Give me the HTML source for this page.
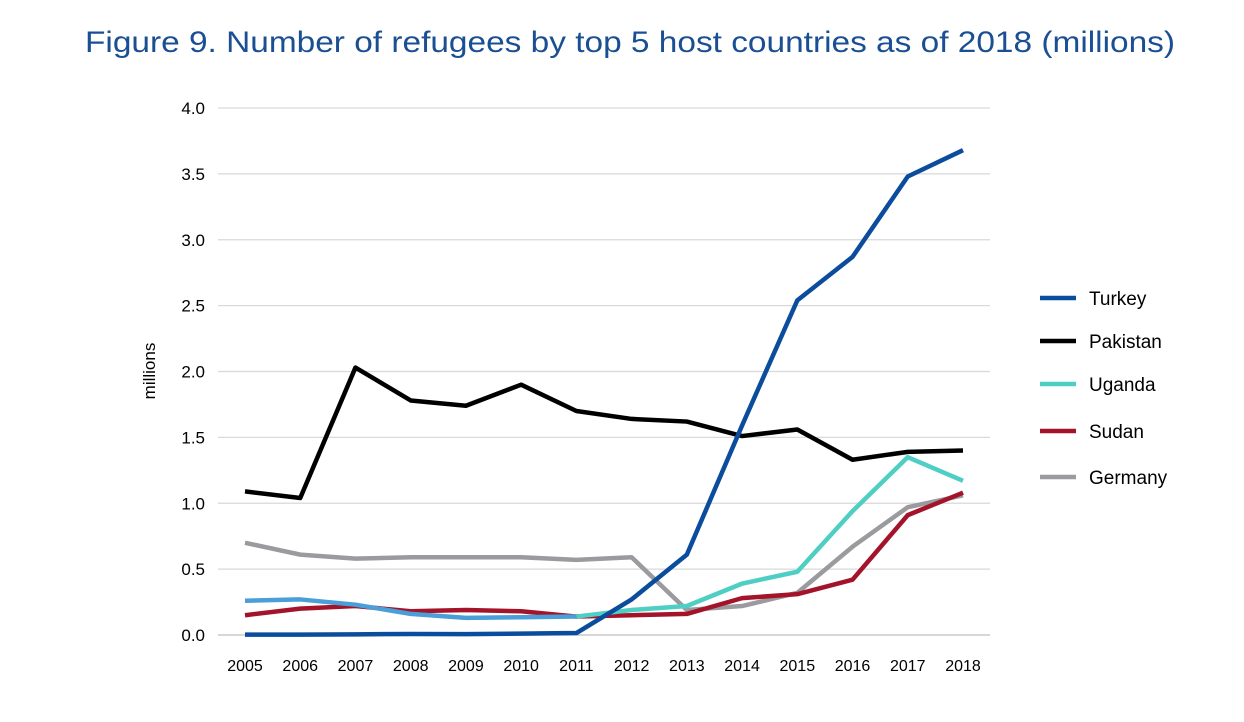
<!DOCTYPE html>
<html><head><meta charset="utf-8"><style>
body{margin:0;background:#fff;}
svg{display:block;font-family:"Liberation Sans",sans-serif;}
</style></head><body>
<svg width="1244" height="722" viewBox="0 0 1244 722">
<text x="85" y="52" font-size="30" textLength="1090" lengthAdjust="spacingAndGlyphs" fill="#1a4f93">Figure 9. Number of refugees by top 5 host countries as of 2018 (millions)</text>
<text transform="translate(155,371) rotate(-90)" text-anchor="middle" font-size="17" fill="#000">millions</text>
<g id="grid"></g><g id="xt"></g><g id="lines"></g><g id="legend"></g>
</svg>
<script>
const years=[2005,2006,2007,2008,2009,2010,2011,2012,2013,2014,2015,2016,2017,2018];
const yTicks=[0,0.5,1,1.5,2,2.5,3,3.5,4];
const seriesNames=["Turkey","Pakistan","Uganda","Sudan","Germany"];
const turkey=[0.003,0.003,0.005,0.008,0.007,0.01,0.015,0.27,0.61,1.59,2.54,2.87,3.48,3.68];
const pakistan=[1.09,1.04,2.03,1.78,1.74,1.90,1.70,1.64,1.62,1.51,1.56,1.33,1.39,1.40];
const uganda=[0.26,0.27,0.23,0.16,0.13,0.135,0.14,0.19,0.22,0.39,0.48,0.94,1.35,1.17];
const sudan=[0.15,0.20,0.22,0.18,0.19,0.18,0.14,0.15,0.16,0.28,0.31,0.42,0.91,1.08];
const germany=[0.70,0.61,0.58,0.59,0.59,0.59,0.57,0.59,0.19,0.22,0.32,0.67,0.97,1.06];
const colors=["#0b4c9c","#000000","#4fcfc4","#a3142b","#9b9b9f"];
const NS="http://www.w3.org/2000/svg";
const xs=i=>245+i*(963-245)/13;
const ys=v=>635-v*(635-108)/4;
function mk(t,a,p){const e=document.createElementNS(NS,t);for(const k in a)e.setAttribute(k,a[k]);p.appendChild(e);return e;}
const g=document.getElementById('grid'),xt=document.getElementById('xt'),L=document.getElementById('lines'),lg=document.getElementById('legend');
yTicks.forEach(v=>{
 const l=mk('line',{x1:218,x2:990,y1:ys(v),y2:ys(v),stroke:v===0?'#bfbfbf':'#d9d9d9','stroke-width':1.3},g);
 
 
 const t=mk('text',{x:205,y:ys(v)+6,'text-anchor':'end','font-size':17},g);t.textContent=v.toFixed(1);
 
 
});
years.forEach((y,i)=>{
 const t=mk('text',{x:xs(i),y:671,'text-anchor':'middle','font-size':16},xt);t.textContent=y;
 
 
});
const data=[turkey,pakistan,uganda,sudan,germany];
const order=[4,3,2,1,0];
order.forEach(s=>{
 const d=data[s];
 if(s===2){
  const p1=mk('polyline',{points:d.slice(0,7).map((v,i)=>xs(i)+','+ys(v)).join(' '),fill:'none',stroke:'#4a9fd8','stroke-width':4.5,'stroke-linejoin':'round'},L);
  
  
  const p2=mk('polyline',{points:d.slice(6).map((v,i)=>xs(i+6)+','+ys(v)).join(' '),fill:'none',stroke:colors[s],'stroke-width':4.5,'stroke-linejoin':'round'},L);
  
  
 } else {
  const p=mk('polyline',{points:d.map((v,i)=>xs(i)+','+ys(v)).join(' '),fill:'none',stroke:colors[s],'stroke-width':4.5,'stroke-linejoin':'round'},L);
  
  
 }
});
const ly=[298,341,384,431,477];
seriesNames.forEach((n,i)=>{
 const l=mk('line',{x1:1040,x2:1076,y1:ly[i],y2:ly[i],stroke:colors[i],'stroke-width':4.5},lg);
 
 
 const t=mk('text',{x:1089,y:ly[i]+7,'font-size':19},lg);t.textContent=n;
 
 
});
</script>
</body></html>
